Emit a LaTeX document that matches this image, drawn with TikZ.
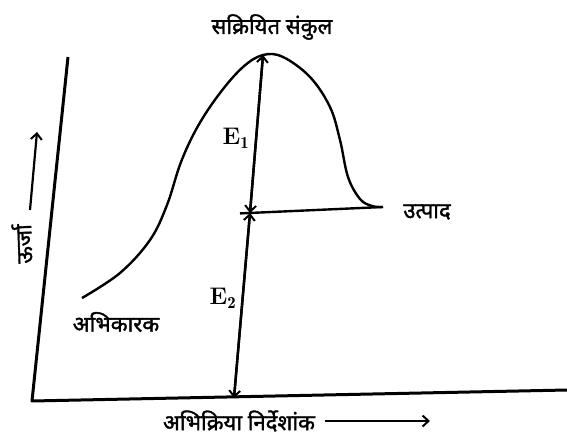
\documentclass[tikz,border=0pt]{standalone}
\usepackage{fontspec}
\newfontfamily\dev[Script=Devanagari,FakeBold=1.5]{Noto Sans}
\usetikzlibrary{arrows.meta}
\tikzset{
  axisline/.style={line width=3pt, line join=round},
  curveline/.style={line width=2.4pt},
  tip/.style={-{Straight Barb[length=6pt,width=11pt,line width=2pt]}},
  devlabel/.style={font=\dev\fontsize{22}{24}\selectfont, inner sep=0pt},
  elabel/.style={font=\bfseries\fontsize{24}{26}\selectfont, inner sep=0pt},
}
\begin{document}
\begin{tikzpicture}[x=1pt,y=-1pt]
\useasboundingbox (0,0) rectangle (567,441);
% axes
\coordinate (yt) at (68,57);
\coordinate (o) at (32,401);
\coordinate (xr) at (567,390);
\draw[axisline] (yt) -- (o) -- (xr);
% energy curve
\coordinate (rs) at (82,298);
\coordinate (pe) at (383,207);
\draw[curveline] plot[smooth, tension=0.6] coordinates {
 (82,298) (120,273) (150,240) (167,205) (181,162) (198,126) (220,93)
 (243,67) (263,55) (283,57) (310,77) (330,107) (340,140) (348,177)
 (360,199) (372,206) (383,207)};
% product level
\coordinate (pm) at (250,213);
\coordinate (pl) at (240,213.4);
\draw[curveline] (pl) -- (pe);
% vertical arrows
\coordinate (pk) at (263,55);
\coordinate (pb) at (234,398);
\draw[curveline, tip] (pm) -- (pk);
\draw[curveline, tip] (pk) -- (pm);
\draw[curveline, tip] (pm) -- (pb);
\draw[curveline, tip] (pb) -- (pm);
% labels
\node[devlabel] (ts) at (272,27) {सक्रियित संकुल};
\node[elabel] (e1) at (236,138) {E$_{\mathbf{1}}$};
\node[elabel] (e2) at (223,298) {E$_{\mathbf{2}}$};
\node[devlabel] (prod) at (427,212) {उत्पाद};
\node[devlabel] (reac) at (116,322) {अभिकारक};
\node[devlabel] (xl) at (239,421) {अभिक्रिया निर्देशांक};
\coordinate (xa1) at (325,421);
\coordinate (xa2) at (430,421);
\draw[line width=2.2pt, -{Straight Barb[length=6pt,width=11pt,line width=2pt]}] (xa1) -- (xa2);
\node[devlabel, rotate=92] (yl) at (22,244) {ऊर्जा};
\coordinate (ya1) at (30,210);
\coordinate (ya2) at (37,132);
\draw[line width=2.2pt, -{Straight Barb[length=6pt,width=11pt,line width=2pt]}] (ya1) -- (ya2);
\end{tikzpicture}
\end{document}
